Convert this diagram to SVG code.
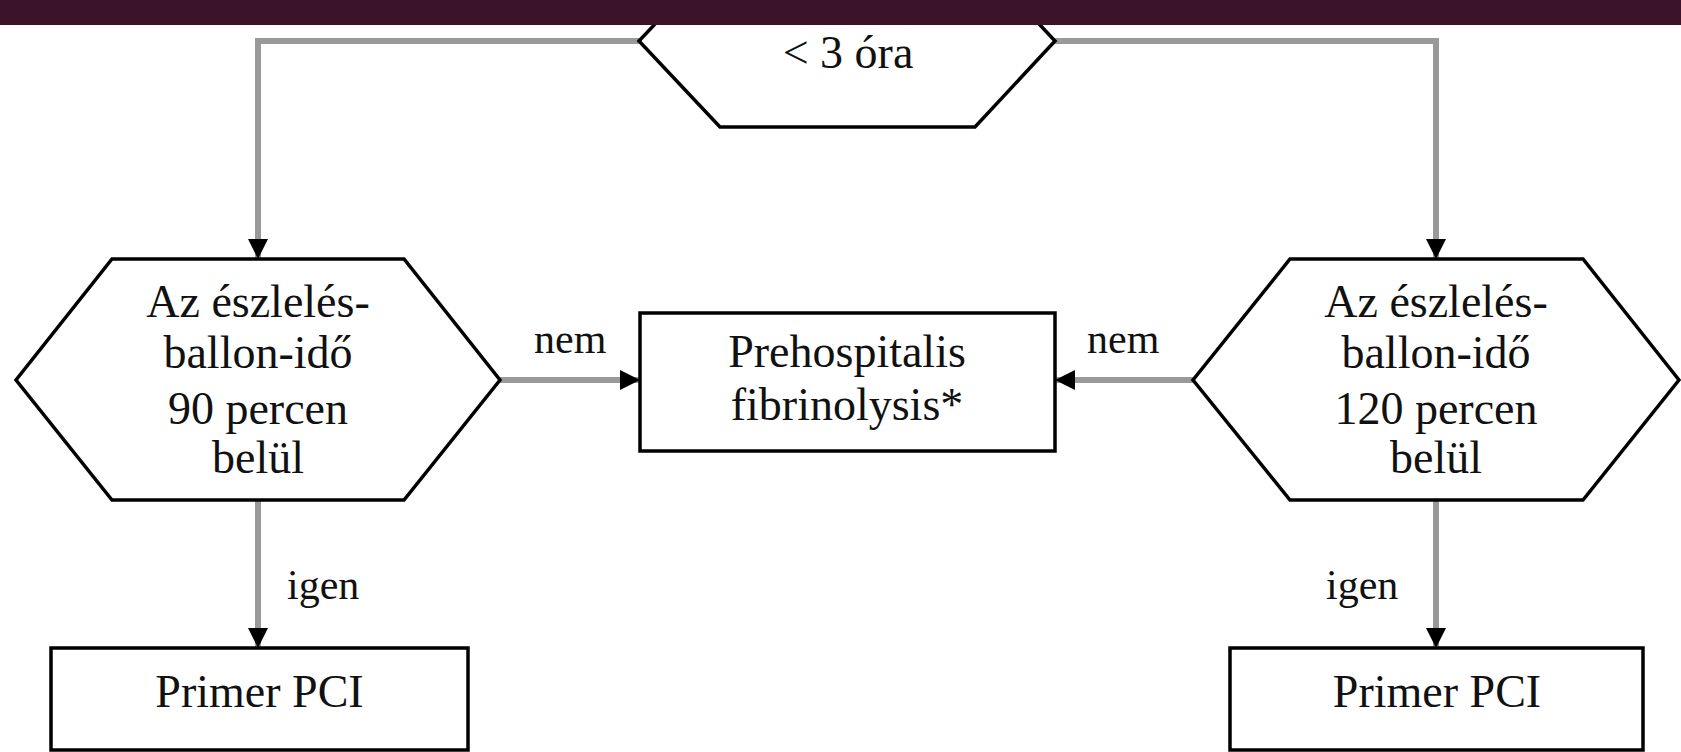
<svg xmlns="http://www.w3.org/2000/svg" width="1681" height="752" viewBox="0 0 1681 752">
  <style>
    .shape { fill: #ffffff; stroke: #000000; stroke-width: 3.5; stroke-linejoin: miter; }
    .conn { fill: none; stroke: #999999; stroke-width: 6; }
    .txt { font-family: "Liberation Serif", "Times New Roman", serif; font-size: 46px; fill: #111111; text-anchor: middle; }
    .lbl { font-family: "Liberation Serif", "Times New Roman", serif; font-size: 42px; fill: #111111; }
  </style>
  <defs>
    <marker id="arrow" markerUnits="userSpaceOnUse" markerWidth="20" markerHeight="20" refX="20" refY="10" orient="auto" viewBox="0 0 20 20">
      <path d="M0,0 L20,10 L0,20 Z" fill="#000000"/>
    </marker>
  </defs>

  <rect width="1681" height="752" fill="#ffffff"/>

  <!-- connectors -->
  <g id="connectors">
    <path class="conn" d="M639,41 H258 V259" marker-end="url(#arrow)"/>
    <path class="conn" d="M1055,41 H1436 V259" marker-end="url(#arrow)"/>
    <path class="conn" d="M500,380 H640" marker-end="url(#arrow)"/>
    <path class="conn" d="M1193,380 H1055" marker-end="url(#arrow)"/>
    <path class="conn" d="M258,500 V648" marker-end="url(#arrow)"/>
    <path class="conn" d="M1436,500 V648" marker-end="url(#arrow)"/>
    <text class="lbl" x="534" y="353">nem</text>
    <text class="lbl" x="1087" y="353">nem</text>
    <text class="lbl" x="287" y="599">igen</text>
    <text class="lbl" x="1326" y="599">igen</text>
  </g>

  <!-- start decision: onset time -->
  <g id="node-time">
    <polygon class="shape" points="720,-45 975,-45 1055,41 975,127 720,127 639,41"/>
    <text class="txt" x="848" y="68">&lt; 3 óra</text>
  </g>

  <!-- header band -->
  <rect id="header" x="0" y="0" width="1681" height="25" fill="#3b1329"/>

  <!-- left decision: 90 minutes -->
  <g id="node-90">
    <polygon class="shape" points="112,259 404,259 500,380 404,500 112,500 16,380"/>
    <text class="txt" x="258" y="317">Az észlelés-</text>
    <text class="txt" x="258" y="368">ballon-idő</text>
    <text class="txt" x="258" y="424">90 percen</text>
    <text class="txt" x="258" y="473">belül</text>
  </g>

  <!-- right decision: 120 minutes -->
  <g id="node-120">
    <polygon class="shape" points="1290,259 1583,259 1679,380 1583,500 1290,500 1193,380"/>
    <text class="txt" x="1436" y="317">Az észlelés-</text>
    <text class="txt" x="1436" y="368">ballon-idő</text>
    <text class="txt" x="1436" y="424">120 percen</text>
    <text class="txt" x="1436" y="473">belül</text>
  </g>

  <!-- prehospital fibrinolysis -->
  <g id="node-fibrinolysis">
    <rect class="shape" x="640" y="313" width="415" height="138"/>
    <text class="txt" x="847" y="367">Prehospitalis</text>
    <text class="txt" x="847" y="420">fibrinolysis*</text>
  </g>

  <!-- primary PCI, left -->
  <g id="node-pci-left">
    <rect class="shape" x="51" y="648" width="417" height="102"/>
    <text class="txt" x="259.5" y="707">Primer PCI</text>
  </g>

  <!-- primary PCI, right -->
  <g id="node-pci-right">
    <rect class="shape" x="1230" y="648" width="413" height="102"/>
    <text class="txt" x="1437" y="707">Primer PCI</text>
  </g>
</svg>
